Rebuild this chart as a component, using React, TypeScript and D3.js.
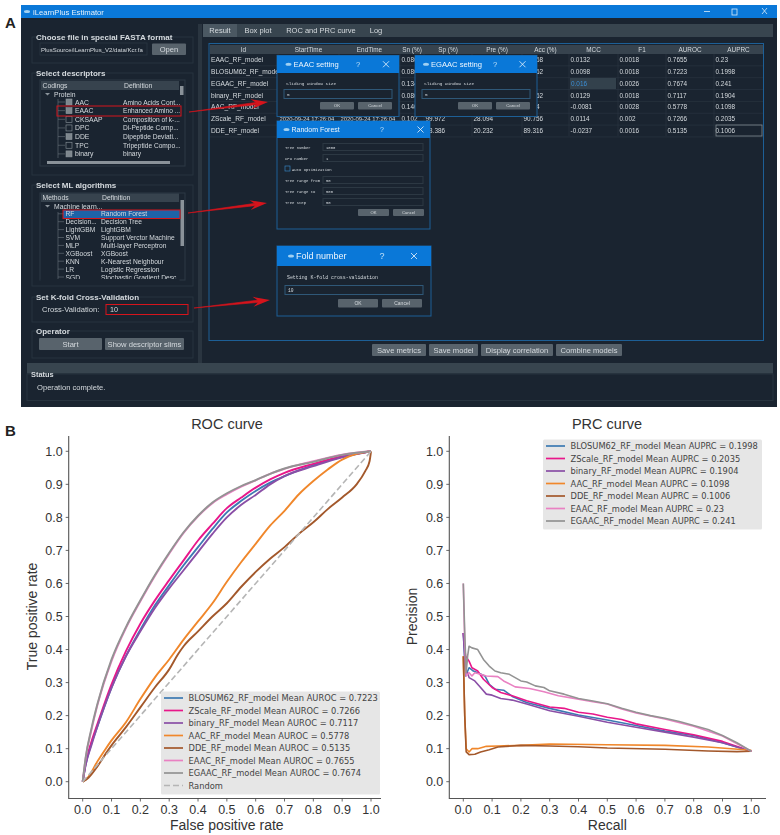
import React from "react";
import * as d3 from "d3";

type P = [number, number];

// ---------- chart data ----------
const tickValues = [0, 0.1, 0.2, 0.3, 0.4, 0.5, 0.6, 0.7, 0.8, 0.9, 1.0];
const seriesColors = ["#3d7ab3", "#e8178a", "#8a4ea6", "#f0872b", "#a3582b", "#e981c2", "#939393"];
const rocLabels = [
  "BLOSUM62_RF_model Mean AUROC = 0.7223",
  "ZScale_RF_model Mean AUROC = 0.7266",
  "binary_RF_model Mean AUROC = 0.7117",
  "AAC_RF_model Mean AUROC = 0.5778",
  "DDE_RF_model Mean AUROC = 0.5135",
  "EAAC_RF_model Mean AUROC = 0.7655",
  "EGAAC_RF_model Mean AUROC = 0.7674",
  "Random",
];
const prcLabels = [
  "BLOSUM62_RF_model Mean AUPRC = 0.1998",
  "ZScale_RF_model Mean AUPRC = 0.2035",
  "binary_RF_model Mean AUPRC = 0.1904",
  "AAC_RF_model Mean AUPRC = 0.1098",
  "DDE_RF_model Mean AUPRC = 0.1006",
  "EAAC_RF_model Mean AUPRC = 0.23",
  "EGAAC_RF_model Mean AUPRC = 0.241",
];

const rocBlosum: P[] = [[0,0],[0.01,0.05],[0.03,0.115],[0.05,0.165],[0.1,0.285],[0.15,0.38],[0.2,0.46],[0.25,0.533],[0.3,0.595],[0.35,0.655],[0.4,0.71],[0.45,0.765],[0.5,0.815],[0.55,0.85],[0.6,0.88],[0.65,0.905],[0.7,0.925],[0.8,0.958],[0.9,0.983],[1,1]];
const rocZScale: P[] = [[0,0],[0.01,0.055],[0.03,0.12],[0.05,0.172],[0.1,0.295],[0.15,0.395],[0.2,0.478],[0.25,0.548],[0.3,0.61],[0.35,0.67],[0.4,0.73],[0.45,0.78],[0.5,0.828],[0.55,0.86],[0.6,0.89],[0.65,0.915],[0.7,0.935],[0.8,0.962],[0.9,0.985],[1,1]];
const rocBinary: P[] = [[0,0],[0.01,0.05],[0.03,0.11],[0.05,0.165],[0.1,0.285],[0.15,0.38],[0.2,0.455],[0.25,0.525],[0.3,0.585],[0.35,0.64],[0.4,0.695],[0.45,0.75],[0.5,0.8],[0.55,0.838],[0.6,0.868],[0.65,0.9],[0.7,0.925],[0.8,0.955],[0.9,0.982],[1,1]];
const rocAAC: P[] = [[0,0],[0.02,0.015],[0.05,0.06],[0.08,0.1],[0.1,0.125],[0.15,0.18],[0.2,0.25],[0.25,0.315],[0.3,0.37],[0.35,0.43],[0.4,0.485],[0.45,0.54],[0.5,0.605],[0.55,0.665],[0.6,0.72],[0.65,0.775],[0.7,0.82],[0.75,0.87],[0.8,0.91],[0.85,0.945],[0.9,0.975],[0.95,0.992],[1,1]];
const rocDDE: P[] = [[0,0],[0.02,0.012],[0.05,0.045],[0.08,0.085],[0.1,0.11],[0.15,0.165],[0.2,0.225],[0.25,0.285],[0.3,0.34],[0.33,0.385],[0.35,0.41],[0.4,0.455],[0.45,0.5],[0.5,0.54],[0.55,0.59],[0.6,0.635],[0.65,0.675],[0.7,0.71],[0.75,0.75],[0.8,0.785],[0.85,0.825],[0.9,0.86],[0.95,0.9],[0.98,0.94],[0.995,0.97],[1,1]];
const rocEAAC: P[] = [[0,0],[0.01,0.07],[0.03,0.155],[0.05,0.228],[0.1,0.365],[0.15,0.465],[0.2,0.546],[0.25,0.622],[0.3,0.69],[0.35,0.753],[0.4,0.803],[0.45,0.843],[0.5,0.87],[0.55,0.893],[0.6,0.912],[0.65,0.932],[0.7,0.947],[0.8,0.97],[0.9,0.99],[1,1]];
const rocEGAAC: P[] = [[0,0],[0.01,0.072],[0.03,0.16],[0.05,0.232],[0.1,0.37],[0.15,0.468],[0.2,0.549],[0.25,0.625],[0.3,0.693],[0.35,0.755],[0.4,0.805],[0.45,0.845],[0.5,0.873],[0.55,0.895],[0.6,0.913],[0.65,0.932],[0.7,0.948],[0.8,0.968],[0.9,0.989],[1,1]];
const randomLine: P[] = [[0,0],[1,1]];

const prcBlosum: P[] = [[0,0.45],[0.008,0.32],[0.02,0.345],[0.035,0.335],[0.05,0.33],[0.075,0.32],[0.09,0.295],[0.11,0.28],[0.14,0.277],[0.17,0.258],[0.22,0.24],[0.3,0.222],[0.4,0.202],[0.5,0.187],[0.6,0.17],[0.7,0.153],[0.8,0.14],[0.9,0.118],[1,0.092]];
const prcZScale: P[] = [[0,0.45],[0.008,0.38],[0.02,0.365],[0.03,0.345],[0.05,0.335],[0.07,0.31],[0.1,0.285],[0.13,0.27],[0.17,0.26],[0.22,0.245],[0.3,0.226],[0.35,0.222],[0.4,0.21],[0.45,0.205],[0.5,0.195],[0.55,0.188],[0.6,0.175],[0.7,0.158],[0.8,0.142],[0.9,0.122],[1,0.092]];
const prcBinary: P[] = [[0,0.45],[0.008,0.33],[0.015,0.33],[0.02,0.315],[0.04,0.305],[0.06,0.285],[0.08,0.265],[0.1,0.262],[0.13,0.252],[0.17,0.247],[0.22,0.235],[0.3,0.215],[0.4,0.198],[0.5,0.18],[0.6,0.165],[0.7,0.15],[0.8,0.135],[0.9,0.118],[1,0.092]];
const prcAAC: P[] = [[0,0.38],[0.005,0.2],[0.01,0.1],[0.02,0.09],[0.03,0.1],[0.05,0.1],[0.08,0.107],[0.12,0.108],[0.2,0.11],[0.3,0.114],[0.5,0.112],[0.7,0.11],[0.85,0.105],[1,0.095]];
const prcDDE: P[] = [[0,0.38],[0.005,0.2],[0.01,0.09],[0.02,0.082],[0.04,0.083],[0.06,0.09],[0.09,0.097],[0.12,0.105],[0.2,0.11],[0.3,0.108],[0.4,0.106],[0.5,0.102],[0.7,0.098],[0.85,0.093],[0.95,0.091],[1,0.092]];
const prcEAAC: P[] = [[0,0.6],[0.005,0.42],[0.01,0.32],[0.02,0.33],[0.03,0.32],[0.04,0.33],[0.06,0.325],[0.08,0.32],[0.12,0.318],[0.14,0.305],[0.18,0.287],[0.23,0.282],[0.28,0.272],[0.33,0.26],[0.4,0.25],[0.45,0.242],[0.5,0.235],[0.55,0.22],[0.6,0.208],[0.7,0.19],[0.8,0.168],[0.9,0.138],[1,0.092]];
const prcEGAAC: P[] = [[0,0.6],[0.005,0.45],[0.01,0.33],[0.015,0.38],[0.02,0.41],[0.03,0.405],[0.05,0.4],[0.07,0.37],[0.09,0.35],[0.11,0.335],[0.13,0.33],[0.16,0.325],[0.2,0.305],[0.22,0.302],[0.25,0.29],[0.28,0.285],[0.3,0.275],[0.35,0.265],[0.4,0.252],[0.45,0.244],[0.5,0.236],[0.55,0.222],[0.6,0.21],[0.65,0.2],[0.7,0.192],[0.75,0.182],[0.8,0.17],[0.85,0.158],[0.9,0.14],[0.95,0.118],[1,0.092]];

const rocSeries = [rocBlosum, rocZScale, rocBinary, rocAAC, rocDDE, rocEAAC, rocEGAAC];
const prcSeries = [prcBlosum, prcZScale, prcBinary, prcAAC, prcDDE, prcEAAC, prcEGAAC];

// ---------- screenshot data ----------
const tableHeaders = ["Id", "StartTime", "EndTime", "Sn (%)", "Sp (%)", "Pre (%)", "Acc (%)", "MCC", "F1", "AUROC", "AUPRC"];
const tableRows = [
  ["EAAC_RF_model", "", "", "0.086", "", "", "90.768", "0.0132", "0.0018", "0.7655", "0.23"],
  ["BLOSUM62_RF_model", "", "", "0.086", "", "", "90.762", "0.0098", "0.0018", "0.7223", "0.1998"],
  ["EGAAC_RF_model", "", "", "0.134", "", "", "90.8", "", "0.0026", "0.7674", "0.241"],
  ["binary_RF_model", "", "", "0.086", "", "", "90.762", "0.0129", "0.0018", "0.7117", "0.1904"],
  ["AAC_RF_model", "", "", "0.146", "", "", "90.64", "-0.0081", "0.0028", "0.5778", "0.1098"],
  ["ZScale_RF_model", "2020-09-24 17:26:04", "2020-09-24 17:26:04", "0.102", "99.972", "28.094", "90.756", "0.0114", "0.002", "0.7266", "0.2035"],
  ["DDE_RF_model", "", "", "", "98.386", "20.232", "89.316", "-0.0237", "0.0016", "0.5135", "0.1006"],
];
const columnEdges = [209, 278, 339, 400, 424, 472, 522, 569, 618, 666, 714, 763];
const descriptorRows = [
  ["AAC", "Amino Acids Cont...", "c"],
  ["EAAC", "Enhanced Amino ...", "c"],
  ["CKSAAP", "Composition of k-...", "u"],
  ["DPC", "Di-Peptide Comp...", "u"],
  ["DDE", "Dipeptide Deviati...", "c"],
  ["TPC", "Tripeptide Compo...", "u"],
  ["binary", "binary", "c"],
];
const mlRows = [
  ["RF", "Random Forest"],
  ["Decision...", "Decision Tree"],
  ["LightGBM", "LightGBM"],
  ["SVM", "Support Verctor Machine"],
  ["MLP", "Multi-layer Perceptron"],
  ["XGBoost", "XGBoost"],
  ["KNN", "K-Nearest Neighbour"],
  ["LR", "Logistic Regression"],
  ["SGD", "Stochastic Gradient Desc"],
];
const tabs: [string, number][] = [["Result", 220], ["Box plot", 258], ["ROC and PRC curve", 321], ["Log", 376]];
const bottomButtons: [string, number, number][] = [["Save metrics", 372, 426], ["Save model", 429, 478], ["Display correlation", 481, 553], ["Combine models", 556, 622]];
const rfFields: [string, string, number][] = [["Tree number", "1000", 147], ["CPU number", "1", 158], ["Tree range from", "50", 180], ["Tree range to", "500", 191], ["Tree step", "50", 202]];

const UI = "'Liberation Sans', Arial, sans-serif";
const MONO = "'Liberation Mono', monospace";
const BG = "#1a2430";
const PANEL = "#38454f";
const BLUE = "#0a78d8";
const TXT = "#d5dade";
const RED = "#d6141c";

function Arrow({ x1, y1, x2, y2 }: { x1: number; y1: number; x2: number; y2: number }) {
  const a = Math.atan2(y2 - y1, x2 - x1);
  const px = (d: number, s: number) => x2 + d * Math.cos(a) - s * Math.sin(a);
  const py = (d: number, s: number) => y2 + d * Math.sin(a) + s * Math.cos(a);
  return (
    <g>
      <polygon
        points={`${x1},${y1} ${px(-10, -1.2)},${py(-10, -1.2)} ${px(-10, 1.2)},${py(-10, 1.2)}`}
        fill={RED}
        stroke={RED}
        strokeWidth={0.6}
      />
      <polygon
        points={`${x2},${y2} ${px(-17, -5)},${py(-17, -5)} ${px(-11, 0)},${py(-11, 0)} ${px(-17, 5)},${py(-17, 5)}`}
        fill={RED}
      />
    </g>
  );
}

function Group({ x, y, w, h, title, tx }: { x: number; y: number; w: number; h: number; title: string; tx: number }) {
  return (
    <g>
      <rect x={x} y={y} width={w} height={h} fill="none" stroke="#27333e" />
      <text x={tx} y={y + 3} fontSize={8} fontWeight="bold" fill={TXT} fontFamily={UI}>{title}</text>
    </g>
  );
}

function Btn({ x, y, w, h, label, fs = 7.6 }: { x: number; y: number; w: number; h: number; label: string; fs?: number }) {
  return (
    <g>
      <rect x={x} y={y} width={w} height={h} fill="#58636c" rx={1} />
      <text x={x + w / 2} y={y + h / 2 + fs * 0.36} textAnchor="middle" fontSize={fs} fill={TXT} fontFamily={UI}>{label}</text>
    </g>
  );
}

function Dialog({ x, y, w, h, tb, title, fs, tx, qx, cx }: { x: number; y: number; w: number; h: number; tb: number; title: string; fs: number; tx: number; qx: number; cx: number }) {
  const cy = y + tb / 2;
  return (
    <g>
      <rect x={x} y={y} width={w} height={h} fill={BG} stroke="#1d5f96" />
      <rect x={x} y={y} width={w} height={tb} fill={BLUE} />
      <ellipse cx={tx - 5} cy={cy} rx={3} ry={1.6} fill="#9fd0f2" />
      <text x={tx} y={cy + fs * 0.36} fontSize={fs} fill="#eef6fd" fontFamily={UI}>{title}</text>
      <text x={qx} y={cy + fs * 0.36} textAnchor="middle" fontSize={fs} fill="#bfe0f8" fontFamily={UI}>?</text>
      <path d={`M${cx - 3} ${cy - 3}L${cx + 3} ${cy + 3}M${cx + 3} ${cy - 3}L${cx - 3} ${cy + 3}`} stroke="#eef6fd" strokeWidth={0.8} />
    </g>
  );
}

function SmallDialogBody({ x, w }: { x: number; w: number }) {
  return (
    <g>
      <text x={x + 9} y={85} fontSize={4.4} fill={TXT} fontFamily={MONO}>Sliding window size</text>
      <rect x={x + 7} y={89.5} width={w - 14} height={9} fill="none" stroke="#2f5878" />
      <text x={x + 10} y={96} fontSize={4.4} fill={TXT} fontFamily={MONO}>5</text>
      <Btn x={x + 43} y={102} w={34} h={7.5} label="OK" fs={4.4} />
      <Btn x={x + 81} y={102} w={34} h={7.5} label="Cancel" fs={4.4} />
    </g>
  );
}

function Screenshot() {
  return (
    <g style={{ filter: "blur(0.3px)" }}>
      <rect x={21} y={5} width={756} height={402} fill={BG} />
      <rect x={21} y={5} width={756} height={13} fill={BLUE} />
      <ellipse cx={27} cy={11.5} rx={3} ry={1.5} fill="#9fd0f2" />
      <text x={33} y={14.5} fontSize={7.7} fill="#e4f1fb" fontFamily={UI}>iLearnPlus Estimator</text>
      <path d="M704 11.5h6" stroke="#d9ecfa" strokeWidth={0.8} />
      <rect x={732} y={9} width={5} height={6} fill="none" stroke="#d9ecfa" strokeWidth={0.8} />
      <path d="M762 8l5 6M767 8l-5 6" stroke="#d9ecfa" strokeWidth={0.8} />

      {/* left panel */}
      <Group x={32} y={37} w={161} h={26} title="Choose file in special FASTA format" tx={36} />
      <text x={41} y={51.5} fontSize={6} fill={TXT} fontFamily={UI}>PlusSource/iLearnPlus_V2/data/Kcr.fa</text>
      <rect x={40} y={43} width={107} height={12} fill="none" stroke="#27333e" />
      <Btn x={152} y={43.5} w={34} h={11.5} label="Open" />

      <Group x={32} y={73} w={161} h={102} title="Select descriptors" tx={36} />
      <rect x={40} y={80} width={145} height={86} fill="none" stroke="#2d3944" />
      <rect x={41} y={81} width={138} height={9} fill="#37434e" />
      <text x={42.5} y={88} fontSize={6.8} fill={TXT} fontFamily={UI}>Codings</text>
      <text x={124} y={88} fontSize={6.8} fill={TXT} fontFamily={UI}>Definition</text>
      <text x={54} y={96.5} fontSize={6.8} fill={TXT} fontFamily={UI}>Protein</text>
      <path d="M45 92l2.5 2.5L50 92" fill="#8b949b" transform="translate(0,1)" />
      <path d="M58 99V158" stroke="#6a747c" strokeWidth={0.6} />
      {descriptorRows.map((r, i) => {
        const y = 102 + i * 8.65;
        return (
          <g key={r[0]}>
            <path d={`M58 ${y}h7`} stroke="#6a747c" strokeWidth={0.6} />
            <rect x={66} y={y - 3} width={6} height={6} fill={r[2] === "c" ? "#7e878e" : "none"} stroke="#8d969d" strokeWidth={0.6} />
            <text x={75} y={y + 2.5} fontSize={6.8} fill={TXT} fontFamily={UI}>{r[0]}</text>
            <text x={123} y={y + 2.5} fontSize={6.6} fill={TXT} fontFamily={UI}>{r[1]}</text>
          </g>
        );
      })}
      <rect x={180} y={86} width={3.5} height={9} fill="#8a9299" />
      <rect x={47} y={161} width={123} height={3} fill="#8a9299" />
      <rect x={57} y={106} width={124} height={10} fill="none" stroke={RED} strokeWidth={1} />

      <Group x={32} y={185} w={161} h={101} title="Select ML algorithms" tx={36} />
      <rect x={40} y={193} width={145} height={87} fill="none" stroke="#2d3944" />
      <rect x={41} y={193.5} width={138} height={8.5} fill="#37434e" />
      <text x={42.5} y={200.3} fontSize={6.8} fill={TXT} fontFamily={UI}>Methods</text>
      <text x={102} y={200.3} fontSize={6.8} fill={TXT} fontFamily={UI}>Definition</text>
      <text x={54} y={209} fontSize={6.8} fill={TXT} fontFamily={UI}>Machine learn...</text>
      <path d="M45 205l2.5 2.5L50 205" fill="#8b949b" />
      <rect x={63} y={210} width={117} height={8.5} fill="#1d63a8" />
      <path d="M58 212V279" stroke="#6a747c" strokeWidth={0.6} />
      {mlRows.map((r, i) => {
        const y = 213.8 + i * 7.9;
        return (
          <g key={r[0]}>
            <path d={`M58 ${y}h6`} stroke="#6a747c" strokeWidth={0.6} />
            <text x={65.5} y={y + 2.5} fontSize={6.7} fill={TXT} fontFamily={UI}>{r[0]}</text>
            <text x={101} y={y + 2.5} fontSize={6.7} fill={TXT} fontFamily={UI}>{r[1]}</text>
          </g>
        );
      })}
      <rect x={40.5} y={279} width={139} height={4} fill={BG} />
      <rect x={180.5} y={200} width={3.5} height={46} fill="#8a9299" />
      <rect x={63} y={210} width={117} height={8.5} fill="none" stroke={RED} strokeWidth={1} />

      <Group x={32} y={297} w={161} h={25} title="Set K-fold Cross-Validation" tx={36} />
      <text x={42} y={312} fontSize={7.6} fill={TXT} fontFamily={UI}>Cross-Validation:</text>
      <rect x={106} y={304.5} width={82} height={10} fill="none" stroke={RED} strokeWidth={1} />
      <text x={110} y={312} fontSize={7.2} fill={TXT} fontFamily={UI}>10</text>

      <Group x={32} y={331} w={161} h={27} title="Operator" tx={36} />
      <Btn x={39} y={338} w={63} h={12} label="Start" />
      <Btn x={105} y={338} w={79} h={12} label="Show descriptor slims" />

      <rect x={198} y={24} width={4} height={339} fill="#2a3540" />

      {/* right panel */}
      <rect x={203} y={24} width={570} height={13} fill={PANEL} />
      <rect x={203} y={24} width={34} height={13} fill="#4b5862" />
      {tabs.map(([t, cx]) => (
        <text key={t} x={cx} y={33.3} textAnchor="middle" fontSize={7.5} fill={TXT} fontFamily={UI}>{t}</text>
      ))}
      <rect x={209} y={43.5} width={554.5} height={297} fill="none" stroke="#1d5f96" />
      <rect x={210} y={45} width={553} height={9} fill="#37434e" />
      {tableHeaders.map((h, i) => (
        <text key={h} x={(columnEdges[i] + columnEdges[i + 1]) / 2} y={52} textAnchor="middle" fontSize={6.4} fill={TXT} fontFamily={UI}>{h}</text>
      ))}
      {tableRows.map((row, r) => {
        const y = 54 + r * 11.85;
        return (
          <g key={row[0]}>
            <path d={`M210 ${y + 11.85}H763`} stroke="#2c3843" strokeWidth={0.6} />
            {row.map((v, c) => (
              <text key={c} x={c === 0 ? 211 : columnEdges[c] + 1.5} y={y + 8} fontSize={c === 0 ? 6.6 : c < 3 ? 5.9 : 6.4} fill={TXT} fontFamily={UI}>{v}</text>
            ))}
          </g>
        );
      })}
      {columnEdges.slice(1, -1).map((x) => (
        <path key={x} d={`M${x} 54V136`} stroke="#2c3843" strokeWidth={0.6} />
      ))}
      <rect x={716} y={125} width={46} height={11} fill="none" stroke="#818a91" strokeWidth={0.8} />
      <rect x={570} y={78} width={46} height={11} fill="#33414c" />
      <text x={571} y={85.7} fontSize={6.4} fill="#3b8fd6" fontFamily={UI}>0.016</text>

      <Dialog x={277} y={55.5} w={122} h={61} tb={17.5} title="EAAC setting" fs={7.6} tx={293.5} qx={358} cx={386} />
      <SmallDialogBody x={277} w={122} />
      <Dialog x={415} y={55.5} w={122} h={61} tb={17.5} title="EGAAC setting" fs={7.6} tx={431} qx={495} cx={522.5} />
      <SmallDialogBody x={415} w={122} />

      <Dialog x={277} y={121} w={153} h={108} tb={17} title="Random Forest" fs={7} tx={291.5} qx={382} cx={420.5} />
      {rfFields.map(([l, v, y]) => (
        <g key={l}>
          <text x={285} y={y + 2} fontSize={3.9} fill={TXT} fontFamily={MONO}>{l}</text>
          <rect x={323} y={y - 3.5} width={100} height={7} fill="none" stroke="#2c3843" />
          <text x={326} y={y + 2} fontSize={3.9} fill={TXT} fontFamily={MONO}>{v}</text>
        </g>
      ))}
      <rect x={285} y={166} width={5} height={5} fill="none" stroke="#3680bd" strokeWidth={0.7} />
      <text x={292} y={170.5} fontSize={3.9} fill={TXT} fontFamily={MONO}>Auto optimization</text>
      <Btn x={358} y={209} w={31} h={7} label="OK" fs={4.2} />
      <Btn x={393} y={209} w={31} h={7} label="Cancel" fs={4.2} />

      <Dialog x={277} y={246} w={154} h={70} tb={20} title="Fold number" fs={9} tx={296} qx={382} cx={414} />
      <text x={287} y={279} fontSize={4.9} fill={TXT} fontFamily={MONO}>Setting K-fold cross-validation</text>
      <rect x={285} y={285.5} width={138} height={9} fill="none" stroke="#2f5878" />
      <text x={288} y={291.5} fontSize={4.6} fill={TXT} fontFamily={MONO}>10</text>
      <Btn x={338} y={299} w={40} h={8.5} label="OK" fs={5} />
      <Btn x={382} y={299} w={40} h={8.5} label="Cancel" fs={5} />

      {bottomButtons.map(([l, a, b]) => (
        <Btn key={l} x={a} y={344} w={b - a} h={12} label={l} />
      ))}

      <rect x={27} y={363} width={746} height={10.5} fill="#38454f" />
      <rect x={27} y={374} width={746} height={26.5} fill="none" stroke="#27333e" />
      <text x={31} y={377} fontSize={7.4} fontWeight="bold" fill={TXT} fontFamily={UI}>Status</text>
      <text x={37} y={390} fontSize={7.6} fill={TXT} fontFamily={UI}>Operation complete.</text>

      <Arrow x1={189} y1={112} x2={268} y2={102} />
      <Arrow x1={188} y1={213} x2={267} y2={203} />
      <Arrow x1={194} y1={308} x2={270} y2={300} />
    </g>
  );
}

type PanelProps = {
  x0: number; x1: number; spineX: number; spineEnd: number;
  series: P[][]; labels: string[]; title: string; titleX: number;
  xLabel: string; yLabel: string; yLabelX: number;
  legend: { x: number; y: number; w: number; h: number };
  random?: boolean; curve: d3.CurveFactory; lw: number;
};

function Panel({ x0, x1, spineX, spineEnd, series, labels, title, titleX, xLabel, yLabel, yLabelX, legend, random, curve, lw }: PanelProps) {
  const xs = d3.scaleLinear().domain([0, 1]).range([x0, x1]);
  const ys = d3.scaleLinear().domain([0, 1]).range([781.7, 451.3]);
  const line = d3.line<P>().x((d) => xs(d[0])).y((d) => ys(d[1])).curve(curve);
  const font = "'Liberation Sans', Arial, sans-serif";
  const spineY = 798.5;
  return (
    <g>
      <text x={titleX} y={429} textAnchor="middle" fontSize={14.5} fill="#333" fontFamily={font}>{title}</text>
      {series.map((s, i) => (
        <path key={i} d={line(s) ?? ""} fill="none" stroke={seriesColors[i]} strokeWidth={lw} strokeLinejoin="round" />
      ))}
      {random && <path d={line(randomLine) ?? ""} fill="none" stroke="#b5b5b5" strokeWidth={1.6} strokeDasharray="6 3" />}
      <path d={`M${spineX} 436V${spineY}H${spineEnd}`} fill="none" stroke="#555" strokeWidth={1.1} />
      {tickValues.map((t) => (
        <g key={t}>
          <path d={`M${spineX} ${ys(t)}h-3`} stroke="#444" strokeWidth={0.8} />
          <text x={spineX - 6} y={ys(t) + 4.5} textAnchor="end" fontSize={12.5} fill="#333" fontFamily={font}>{t.toFixed(1)}</text>
          <path d={`M${xs(t)} ${spineY}v3`} stroke="#444" strokeWidth={0.8} />
          <text x={xs(t)} y={813.5} textAnchor="middle" fontSize={12.5} fill="#333" fontFamily={font}>{t.toFixed(1)}</text>
        </g>
      ))}
      <text x={(x0 + x1) / 2} y={830} textAnchor="middle" fontSize={14} fill="#333" fontFamily={font}>{xLabel}</text>
      <text transform={`translate(${yLabelX},${616.5}) rotate(-90)`} textAnchor="middle" fontSize={14} fill="#333" fontFamily={font}>{yLabel}</text>
      <rect x={legend.x} y={legend.y} width={legend.w} height={legend.h} fill="#e5e5e5" fillOpacity={0.95} rx={1.5} />
      {labels.map((l, i) => {
        const y = legend.y + 6.5 + i * 12.5;
        const isRandom = l === "Random";
        return (
          <g key={l}>
            <path d={`M${legend.x + 3} ${y}h19`} stroke={isRandom ? "#b5b5b5" : seriesColors[i]} strokeWidth={1.7} strokeDasharray={isRandom ? "6 3" : undefined} />
            <text x={legend.x + 27.5} y={y + 3} fontSize={8.3} fill="#444" fontFamily="'DejaVu Sans', sans-serif">{l}</text>
          </g>
        );
      })}
    </g>
  );
}

export default function App() {
  return (
    <svg width={780} height={835} style={{ position: "absolute", left: 0, top: 0, background: "#fff" }}>
      <text x={5} y={28} fontSize={15} fontWeight="bold" fill="#222" fontFamily={UI}>A</text>
      <text x={5} y={436} fontSize={15} fontWeight="bold" fill="#222" fontFamily={UI}>B</text>
      <Screenshot />
      <Panel x0={82.7} x1={371} spineX={68.7} spineEnd={381} series={rocSeries} labels={rocLabels} title="ROC curve" titleX={227}
        xLabel="False positive rate" yLabel="True positive rate" yLabelX={37}
        legend={{ x: 161, y: 691.5, w: 219, h: 103 }} random curve={d3.curveMonotoneX} lw={1.9} />
      <Panel x0={463.3} x1={751.3} spineX={449.3} spineEnd={766} series={prcSeries} labels={prcLabels} title="PRC curve" titleX={607}
        xLabel="Recall" yLabel="Precision" yLabelX={417}
        legend={{ x: 543, y: 439.5, w: 219, h: 90 }} curve={d3.curveLinear} lw={1.6} />
    </svg>
  );
}
